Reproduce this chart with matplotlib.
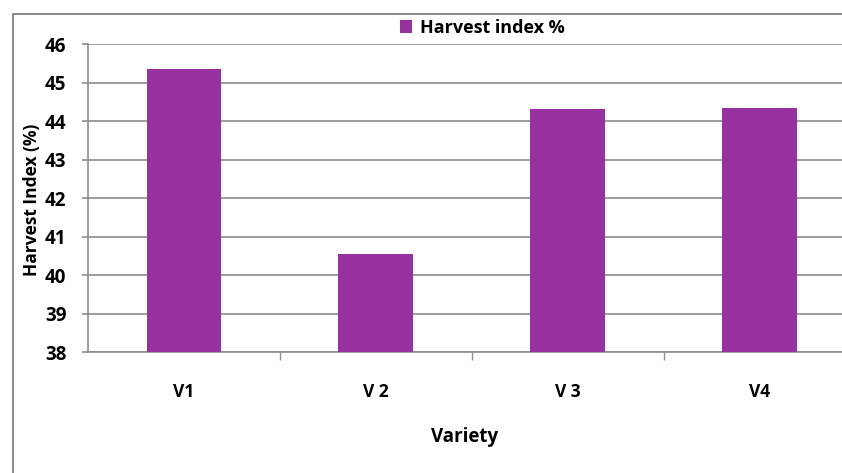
import matplotlib
matplotlib.use("Agg")
import matplotlib.pyplot as plt
from matplotlib.patches import Rectangle
from matplotlib.ticker import FixedLocator, NullFormatter

categories = ["V1", "V 2", "V 3", "V4"]
harvest_index = [45.35, 40.55, 44.3, 44.35]
y_ticks = [38, 39, 40, 41, 42, 43, 44, 45, 46]

plt.rcParams['font.family'] = ['Open Sans', 'DejaVu Sans']
bar_color = "#97319f"
grid_color = "#8c8c8c"

fig = plt.figure(figsize=(8.42, 4.73), dpi=100)
ax = fig.add_axes([88/842, 1-352/473, 1-88/842, (352-44)/473])

x = range(len(categories))
ax.bar(x, harvest_index, width=0.39, color=bar_color, label="Harvest index %",
       zorder=3)
ax.set_ylim(38, 46)
ax.set_xlim(-0.5, 3.43)
ax.set_yticks(y_ticks)
ax.set_yticklabels([str(v) for v in y_ticks], fontsize=13.5, fontweight='bold')
ax.yaxis.grid(True, color=grid_color, linewidth=1.2, zorder=0)
ax.set_axisbelow(True)

ax.set_xticks(list(x))
ax.set_xticklabels(categories, fontsize=12.5, fontweight='bold')
ax.xaxis.set_minor_locator(FixedLocator([0.5, 1.5, 2.5, 3.5]))
ax.xaxis.set_minor_formatter(NullFormatter())
ax.tick_params(axis='x', which='major', length=0, pad=22)
ax.tick_params(axis='x', which='minor', length=6, color=grid_color, width=1)
ax.tick_params(axis='y', length=4.5, color=grid_color, width=1.2, pad=11)

for s in ['top', 'right']:
    ax.spines[s].set_visible(False)
for s in ['left', 'bottom']:
    ax.spines[s].set_color(grid_color)
    ax.spines[s].set_linewidth(1.2)

ax.set_xlabel("Variety", fontsize=13.5, fontweight='bold', labelpad=19)
ax.set_ylabel("Harvest Index (%)", fontsize=12.5, fontweight='bold')
ax.yaxis.set_label_coords(-47/754, (352-200)/308)

leg = fig.legend(loc='center', bbox_to_anchor=(482/842, 1-28/473), frameon=False,
                 prop={'weight': 'bold', 'size': 13}, handlelength=0.7,
                 handleheight=0.7, handletextpad=0.4)

fig.patches.append(Rectangle((13/842, -0.1), 1.2, 1 + 0.1 - 14/473,
                             transform=fig.transFigure, fill=False,
                             edgecolor="#777777", linewidth=1.2))

fig.savefig("out.png", dpi=100)
